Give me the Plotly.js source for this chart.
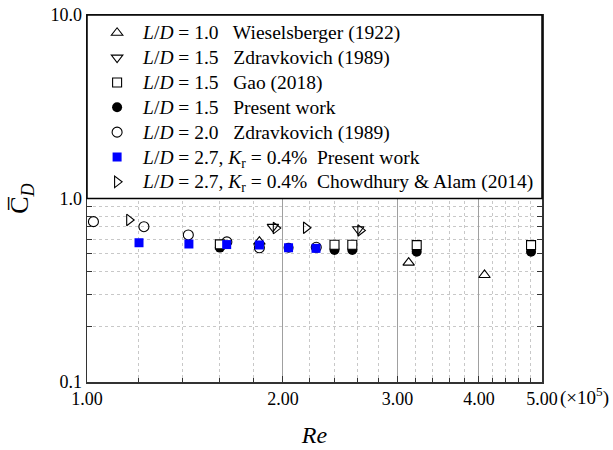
<!DOCTYPE html>
<html>
<head>
<meta charset="utf-8">
<script src="https://cdn.plot.ly/plotly-3.0.1.min.js"></script>
<style>html,body{margin:0;padding:0;background:#fff;}</style>
</head>
<body>
<div id="chart" style="width:613px;height:450px;"></div>
<script>
// Re in units of 1e5, mean drag coefficient
const wieselRe = [1.84, 3.12, 4.08];
const wieselCd = [0.582, 0.447, 0.383];
const zdrav15Re = [1.93, 2.61];
const zdrav15Cd = [0.70, 0.68];
const gaoRe = [1.60, 2.40, 2.556, 3.21, 4.81];
const gaoCd = [0.562, 0.560, 0.560, 0.557, 0.557];
const presRe = [1.60, 2.04, 2.40, 2.556, 3.21, 4.81];
const presCd = [0.540, 0.539, 0.524, 0.524, 0.513, 0.513];
const zdrav20Re = [1.023, 1.223, 1.431, 1.64, 1.84, 2.25];
const zdrav20Cd = [0.748, 0.702, 0.633, 0.580, 0.539, 0.542];
const kr27Re = [1.202, 1.434, 1.639, 1.84, 2.04, 2.248];
const kr27Cd = [0.574, 0.565, 0.561, 0.558, 0.539, 0.535];
const chowRe = [1.161, 1.95, 2.17, 2.63];
const chowCd = [0.764, 0.690, 0.693, 0.670];

const xTickVals = [1, 2, 3, 4, 5];
const xTickText = ['1.00', '2.00', '3.00', '4.00', '5.00'];
const xMinorVals = [1.2,1.4,1.6,1.8,2.2,2.4,2.6,2.8,3.2,3.4,3.6,3.8,4.2,4.4,4.6,4.8];
const yTickVals = [0.1, 1, 10];
const yTickText = ['0.1', '1.0', '10.0'];
const yMinorVals = [0.2,0.3,0.4,0.5,0.6,0.7,0.8,0.9,2,3,4,5,6,7,8,9];

const names = [
  '<i>L</i>/<i>D</i> = 1.0   Wieselsberger (1922)',
  '<i>L</i>/<i>D</i> = 1.5   Zdravkovich (1989)',
  '<i>L</i>/<i>D</i> = 1.5   Gao (2018)',
  '<i>L</i>/<i>D</i> = 1.5   Present work',
  '<i>L</i>/<i>D</i> = 2.0   Zdravkovich (1989)',
  '<i>L</i>/<i>D</i> = 2.7, <i>K</i><sub>r</sub> = 0.4%  Present work',
  '<i>L</i>/<i>D</i> = 2.7, <i>K</i><sub>r</sub> = 0.4%  Chowdhury &amp; Alam (2014)'
];
const big = s => '<span style="font-size:19.5px">' + s + '</span>';

function tr(x, y, name, rank, marker) {
  return {x: x, y: y, name: big(name), legendrank: rank, mode: 'markers', type: 'scatter',
          marker: marker, cliponaxis: false};
}
const openLine = {color: '#000', width: 1.1};
const traces = [
  tr(wieselRe, wieselCd, names[0], 1, {symbol: 'triangle-up-open', size: 10, color: '#000', line: openLine}),
  tr(zdrav20Re, zdrav20Cd, names[4], 5, {symbol: 'circle-open', size: 10, color: '#000', line: openLine}),
  tr(zdrav15Re, zdrav15Cd, names[1], 2, {symbol: 'triangle-down-open', size: 10, color: '#000', line: openLine}),
  tr(chowRe, chowCd, names[6], 7, {symbol: 'triangle-right-open', size: 10, color: '#000', line: openLine}),
  tr(presRe, presCd, names[3], 4, {symbol: 'circle', size: 10, color: '#000', line: {width: 0}}),
  tr(gaoRe, gaoCd, names[2], 3, {symbol: 'square', size: 9, color: '#fff', line: openLine}),
  tr(kr27Re, kr27Cd, names[5], 6, {symbol: 'square', size: 9, color: '#0000ff', line: {width: 0}})
];

const layout = {
  width: 613, height: 450,
  margin: {l: 87, r: 71, t: 15, b: 68},
  paper_bgcolor: '#fff', plot_bgcolor: '#fff',
  font: {family: 'Liberation Serif, Times New Roman, serif', color: '#000', size: 18},
  showlegend: true,
  legend: {x: 0.009, y: 0.999, xanchor: 'left', yanchor: 'top', bgcolor: 'rgba(0,0,0,0)',
           borderwidth: 0, font: {size: 16.8}, itemwidth: 42, traceorder: 'normal', tracegroupgap: 0},
  xaxis: {
    type: 'log', range: [0, Math.log10(5)],
    tickmode: 'array', tickvals: xTickVals, ticktext: xTickText,
    ticks: 'inside', ticklen: 6, tickcolor: '#333',
    showline: true, linecolor: '#333', linewidth: 1.5, mirror: 'ticks',
    showgrid: true, gridcolor: '#a0a0a0', gridwidth: 1,
    zeroline: false,
    minor: {tickmode: 'array', tickvals: xMinorVals, ticks: 'inside', ticklen: 4, tickcolor: '#333',
            showgrid: true, gridcolor: '#c8c8c8', griddash: 'dot', gridwidth: 1},
    tickfont: {size: 18},
    title: {text: '<i>Re</i>', font: {size: 24}, standoff: 18}
  },
  yaxis: {
    type: 'log', range: [-1, 1],
    tickmode: 'array', tickvals: yTickVals, ticktext: yTickText,
    ticks: 'inside', ticklen: 6, tickcolor: '#333',
    showline: true, linecolor: '#333', linewidth: 1.5, mirror: 'ticks',
    showgrid: false,
    zeroline: false,
    minor: {tickmode: 'array', tickvals: yMinorVals, ticks: 'inside', ticklen: 5, tickcolor: '#333',
            showgrid: true, gridcolor: '#c8c8c8', griddash: 'dot', gridwidth: 1},
    tickfont: {size: 18},
    title: {text: 'C\u0305<sub><i>D</i></sub>', font: {size: 26}, standoff: 14}
  },
  shapes: [
    {type: 'rect', xref: 'paper', yref: 'paper', x0: 0, x1: 1, y0: 0.5, y1: 1,
     fillcolor: '#fff', line: {color: '#000', width: 1.5}, layer: 'above'}
  ],
  annotations: [
    {xref: 'paper', yref: 'paper', x: 1.035, y: 0, yshift: -14, xanchor: 'left', yanchor: 'middle',
     text: '(×10<sup>5</sup>)', showarrow: false, font: {size: 19}}
  ]
};

Plotly.newPlot('chart', traces, layout, {displayModeBar: false, staticPlot: true});
</script>
</body>
</html>
